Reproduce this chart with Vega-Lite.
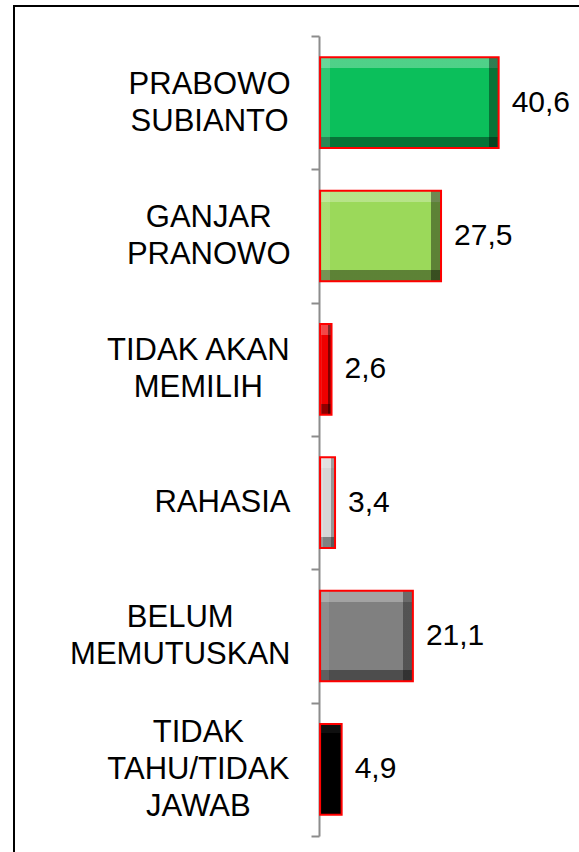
{
  "$schema": "https://vega.github.io/schema/vega-lite/v6.json",
  "width": 579,
  "height": 852,
  "autosize": {"type": "fit", "contains": "padding"},
  "padding": {"left": 14, "top": -10, "right": -12, "bottom": -12},
  "background": "white",
  "config": {
    "view": {"stroke": "#000000", "strokeWidth": 2},
    "locale": {"number": {"decimal": ",", "thousands": ".", "grouping": [3], "currency": ["", ""]}}
  },
  "data": {
    "values": [
      {"kategori": "PRABOWO\nSUBIANTO", "persen": 40.6},
      {"kategori": "GANJAR\nPRANOWO", "persen": 27.5},
      {"kategori": "TIDAK AKAN\nMEMILIH", "persen": 2.6},
      {"kategori": "RAHASIA", "persen": 3.4},
      {"kategori": "BELUM\nMEMUTUSKAN", "persen": 21.1},
      {"kategori": "TIDAK\nTAHU/TIDAK\nJAWAB", "persen": 4.9}
    ]
  },
  "encoding": {
    "y": {
      "field": "kategori",
      "type": "nominal",
      "sort": null,
      "scale": {"range": [30, 830], "paddingInner": 0, "paddingOuter": 0},
      "axis": {
        "title": null,
        "offset": -305,
        "domainColor": "#8c8c8c",
        "domainWidth": 2,
        "tickColor": "#8c8c8c",
        "tickWidth": 2,
        "tickSize": 8,
        "tickBand": "extent",
        "labelFont": "Liberation Sans",
        "labelFontSize": 31,
        "labelLineHeight": 37,
        "labelColor": "#000000",
        "labelPadding": 21,
        "labelLimit": 500,
        "labelOverlap": false,
        "labelExpr": "split(datum.label, '\\n')",
        "encoding": {
          "labels": {
            "align": {"value": "center"},
            "dy": {"value": {"expr": "-(length(split(datum.value,'\\n'))-1)*18.5"}},
            "dx": {"value": {"expr": "-0.8611*max(length(split(replace(replace(replace(replace(replace(replace(replace(replace(replace(datum.value,regexp('[I/ ]','g'),'#####'),regexp('J','g'),'#########'),regexp('L','g'),'##########'),regexp('[TFZ]','g'),'###########'),regexp('[ABEKPSVXY]','g'),'############'),regexp('[CDHNRU]','g'),'#############'),regexp('[GOQ]','g'),'##############'),regexp('M','g'),'###############'),regexp('W','g'),'#################'),'\\n')[0]||''), length(split(replace(replace(replace(replace(replace(replace(replace(replace(replace(datum.value,regexp('[I/ ]','g'),'#####'),regexp('J','g'),'#########'),regexp('L','g'),'##########'),regexp('[TFZ]','g'),'###########'),regexp('[ABEKPSVXY]','g'),'############'),regexp('[CDHNRU]','g'),'#############'),regexp('[GOQ]','g'),'##############'),regexp('M','g'),'###############'),regexp('W','g'),'#################'),'\\n')[1]||''), length(split(replace(replace(replace(replace(replace(replace(replace(replace(replace(datum.value,regexp('[I/ ]','g'),'#####'),regexp('J','g'),'#########'),regexp('L','g'),'##########'),regexp('[TFZ]','g'),'###########'),regexp('[ABEKPSVXY]','g'),'############'),regexp('[CDHNRU]','g'),'#############'),regexp('[GOQ]','g'),'##############'),regexp('M','g'),'###############'),regexp('W','g'),'#################'),'\\n')[2]||''))"}}
          }
        }
      }
    },
    "x": {
      "field": "persen",
      "type": "quantitative",
      "scale": {"domain": [-69.6, 61.6], "nice": false},
      "axis": null
    }
  },
  "layer": [
    {
      "mark": {"type": "bar", "height": {"band": 0.68}},
      "encoding": {
        "color": {
          "field": "kategori",
          "type": "nominal",
          "sort": null,
          "scale": {
            "domain": ["PRABOWO\nSUBIANTO", "GANJAR\nPRANOWO", "TIDAK AKAN\nMEMILIH", "RAHASIA", "BELUM\nMEMUTUSKAN", "TIDAK\nTAHU/TIDAK\nJAWAB"],
            "range": ["#0BBF5B", "#9BD95A", "#F00000", "#D6D6D6", "#808080", "#000000"]
          },
          "legend": null
        }
      }
    },
    {
      "transform": [{"filter": {"not": {"field": "kategori", "equal": "TIDAK\nTAHU/TIDAK\nJAWAB"}}}],
      "mark": {
        "type": "bar",
        "height": {"band": 0.68},
        "fill": {"gradient": "linear", "x1": 0, "y1": 0, "x2": 0, "y2": 1, "stops": [
          {"offset": 0, "color": "rgba(255,255,255,0.28)"},
          {"offset": 0.12, "color": "rgba(255,255,255,0.28)"},
          {"offset": 0.12, "color": "rgba(255,255,255,0)"},
          {"offset": 0.88, "color": "rgba(0,0,0,0)"},
          {"offset": 0.88, "color": "rgba(0,0,0,0.4)"},
          {"offset": 1, "color": "rgba(0,0,0,0.4)"}
        ]}
      }
    },
    {
      "transform": [{"filter": {"field": "kategori", "equal": "TIDAK\nTAHU/TIDAK\nJAWAB"}}],
      "mark": {
        "type": "bar",
        "height": {"band": 0.68},
        "fill": {"gradient": "linear", "x1": 0, "y1": 0, "x2": 0, "y2": 1, "stops": [
          {"offset": 0, "color": "rgba(255,255,255,0.06)"},
          {"offset": 0.1, "color": "rgba(255,255,255,0.06)"},
          {"offset": 0.1, "color": "rgba(255,255,255,0)"},
          {"offset": 1, "color": "rgba(255,255,255,0)"}
        ]}
      }
    },
    {
      "transform": [{"filter": {"field": "kategori", "equal": "PRABOWO\nSUBIANTO"}}],
      "mark": {
        "type": "bar",
        "height": {"band": 0.68},
        "fill": {"gradient": "linear", "x1": 0, "y1": 0, "x2": 1, "y2": 0, "stops": [
          {"offset": 0, "color": "rgba(255,255,255,0.15)"},
          {"offset": 0.055, "color": "rgba(255,255,255,0.15)"},
          {"offset": 0.055, "color": "rgba(255,255,255,0)"},
          {"offset": 0.945, "color": "rgba(0,0,0,0)"},
          {"offset": 0.945, "color": "rgba(0,0,0,0.4)"},
          {"offset": 1, "color": "rgba(0,0,0,0.4)"}
        ]}
      }
    },
    {
      "transform": [{"filter": {"field": "kategori", "equal": "GANJAR\nPRANOWO"}}],
      "mark": {
        "type": "bar",
        "height": {"band": 0.68},
        "fill": {"gradient": "linear", "x1": 0, "y1": 0, "x2": 1, "y2": 0, "stops": [
          {"offset": 0, "color": "rgba(255,255,255,0.15)"},
          {"offset": 0.08, "color": "rgba(255,255,255,0.15)"},
          {"offset": 0.08, "color": "rgba(255,255,255,0)"},
          {"offset": 0.92, "color": "rgba(0,0,0,0)"},
          {"offset": 0.92, "color": "rgba(0,0,0,0.4)"},
          {"offset": 1, "color": "rgba(0,0,0,0.4)"}
        ]}
      }
    },
    {
      "transform": [{"filter": {"field": "kategori", "equal": "TIDAK AKAN\nMEMILIH"}}],
      "mark": {
        "type": "bar",
        "height": {"band": 0.68},
        "fill": {"gradient": "linear", "x1": 0, "y1": 0, "x2": 1, "y2": 0, "stops": [
          {"offset": 0, "color": "rgba(255,255,255,0.1)"},
          {"offset": 0.2, "color": "rgba(255,255,255,0.1)"},
          {"offset": 0.2, "color": "rgba(255,255,255,0)"},
          {"offset": 0.7, "color": "rgba(0,0,0,0)"},
          {"offset": 0.7, "color": "rgba(0,0,0,0.45)"},
          {"offset": 1, "color": "rgba(0,0,0,0.45)"}
        ]}
      }
    },
    {
      "transform": [{"filter": {"field": "kategori", "equal": "RAHASIA"}}],
      "mark": {
        "type": "bar",
        "height": {"band": 0.68},
        "fill": {"gradient": "linear", "x1": 0, "y1": 0, "x2": 1, "y2": 0, "stops": [
          {"offset": 0, "color": "rgba(255,255,255,0.2)"},
          {"offset": 0.22, "color": "rgba(255,255,255,0.2)"},
          {"offset": 0.22, "color": "rgba(255,255,255,0)"},
          {"offset": 0.72, "color": "rgba(0,0,0,0)"},
          {"offset": 0.72, "color": "rgba(0,0,0,0.3)"},
          {"offset": 1, "color": "rgba(0,0,0,0.3)"}
        ]}
      }
    },
    {
      "transform": [{"filter": {"field": "kategori", "equal": "BELUM\nMEMUTUSKAN"}}],
      "mark": {
        "type": "bar",
        "height": {"band": 0.68},
        "fill": {"gradient": "linear", "x1": 0, "y1": 0, "x2": 1, "y2": 0, "stops": [
          {"offset": 0, "color": "rgba(255,255,255,0.1)"},
          {"offset": 0.1, "color": "rgba(255,255,255,0.1)"},
          {"offset": 0.1, "color": "rgba(255,255,255,0)"},
          {"offset": 0.89, "color": "rgba(0,0,0,0)"},
          {"offset": 0.89, "color": "rgba(0,0,0,0.35)"},
          {"offset": 1, "color": "rgba(0,0,0,0.35)"}
        ]}
      }
    },
    {
      "mark": {"type": "bar", "height": {"band": 0.68}, "fillOpacity": 0, "stroke": "#ff0000", "strokeWidth": 2}
    },
    {
      "mark": {"type": "text", "align": "left", "baseline": "middle", "dx": 13, "fontSize": 30, "font": "Liberation Sans", "color": "#000000"},
      "encoding": {
        "text": {"field": "persen", "type": "quantitative", "format": ".1f"}
      }
    }
  ]
}
